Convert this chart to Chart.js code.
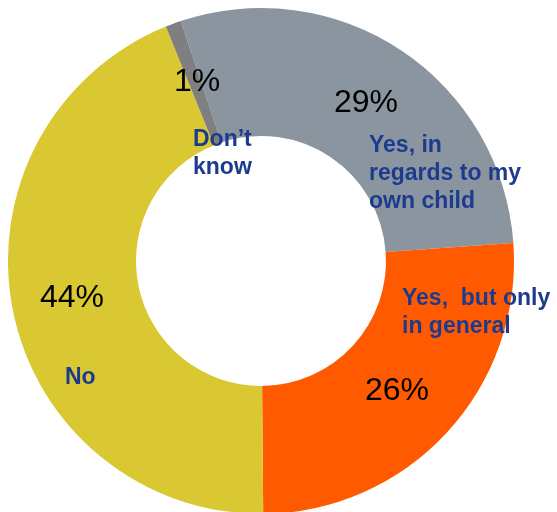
<!DOCTYPE html>
<html>
<head>
<meta charset="utf-8">
<script src="https://cdn.jsdelivr.net/npm/chart.js@4"></script>
<style>
  html, body { margin: 0; padding: 0; background: #fff; }
  #wrap { width: 557px; height: 512px; overflow: hidden; position: relative; }
  #wrap canvas { position: absolute; left: 0; top: 0; }
</style>
</head>
<body>
<div id="wrap">
  <canvas id="chart" width="557" height="522"></canvas>
</div>
<script>
// answers, in drawing order (clockwise from the top)
const categories = [
  'Yes, in regards to my own child',
  'Yes,  but only in general',
  'No',
  'Don\u2019t know'
];
const shares = [29, 26, 44, 1];
const colors = ['#8a959f', '#ff5a00', '#d9c832', '#7f7f7f'];

// text pieces drawn on top, offsets from the doughnut centre
const pctLabels = [
  { text: '29%', x: 105, y: -149 },
  { text: '26%', x: 136, y: 139 },
  { text: '44%', x: -189, y: 46 },
  { text: '1%', x: -64, y: -170 }
];
const nameLabels = [
  { lines: ['Yes, in', 'regards to my', 'own child'], x: 108, y: -109 },
  { lines: ['Yes,  but only', 'in general'], x: 141, y: 44 },
  { lines: ['No'], x: -196, y: 123 },
  { lines: ['Don\u2019t', 'know'], x: -68, y: -115 }
];

const labelPlugin = {
  id: 'labels',
  afterDraw(chart) {
    const ctx = chart.ctx;
    const arc = chart.getDatasetMeta(0).data[0];
    const cx = arc.x, cy = arc.y;
    ctx.save();
    ctx.textBaseline = 'alphabetic';
    ctx.fillStyle = '#000';
    ctx.font = '32px "Liberation Sans", Arial, sans-serif';
    ctx.textAlign = 'center';
    pctLabels.forEach(l => ctx.fillText(l.text, cx + l.x, cy + l.y));
    ctx.fillStyle = '#1c3b8e';
    ctx.font = 'bold 23px "Liberation Sans", Arial, sans-serif';
    ctx.textAlign = 'left';
    nameLabels.forEach(l => {
      l.lines.forEach((line, i) => ctx.fillText(line, cx + l.x, cy + l.y + i * 28));
    });
    ctx.restore();
  }
};

new Chart(document.querySelector('#chart'), {
  type: 'doughnut',
  data: {
    labels: categories,
    datasets: [{
      data: shares,
      backgroundColor: colors,
      borderWidth: 0
    }]
  },
  options: {
    responsive: false,
    animation: false,
    rotation: -18.5,
    cutout: '49.4%',
    layout: { padding: { left: 8, right: 43, top: 8, bottom: 8 } },
    plugins: {
      legend: { display: false },
      tooltip: { enabled: false }
    }
  },
  plugins: [labelPlugin]
});
</script>
</body>
</html>
